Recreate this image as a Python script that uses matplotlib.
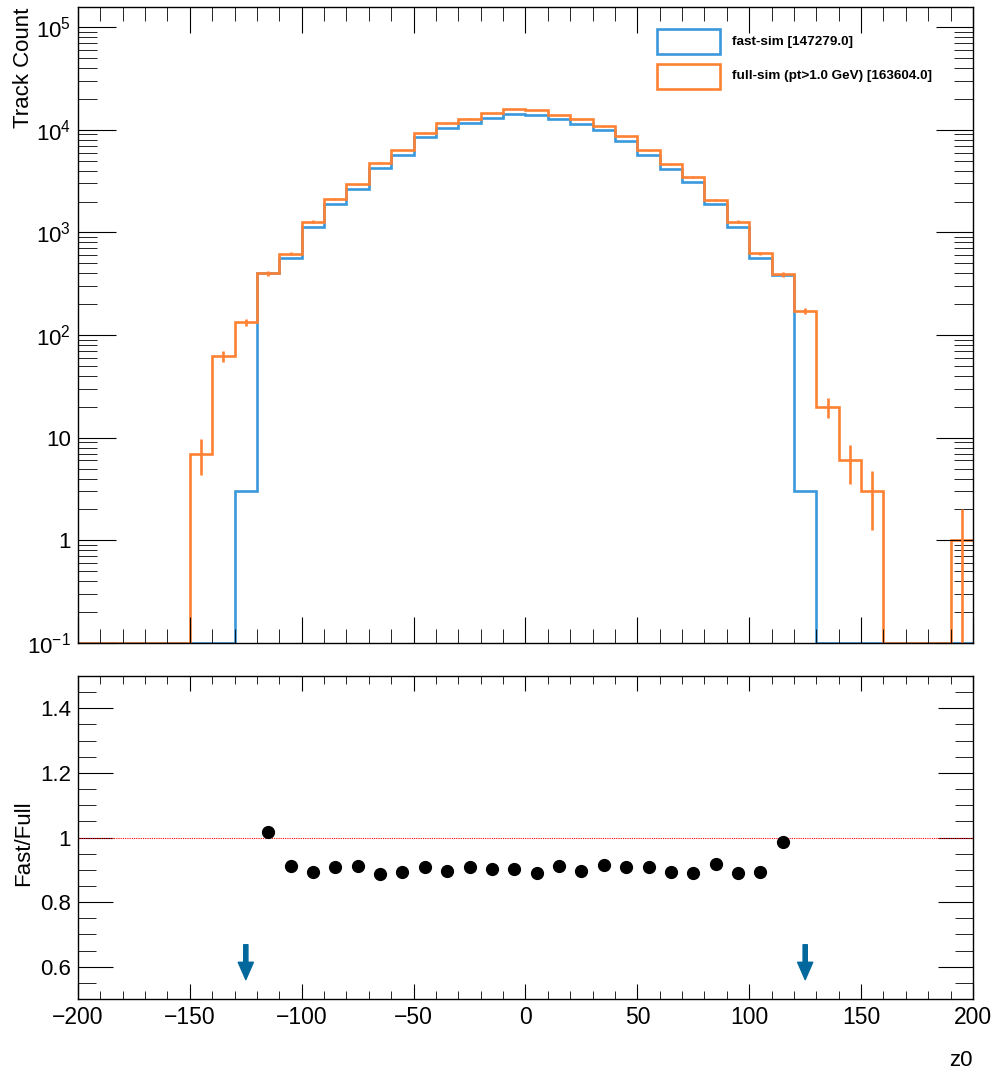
import numpy as np
import matplotlib
matplotlib.use("Agg")
import matplotlib.pyplot as plt
from matplotlib.ticker import FixedLocator, FixedFormatter, MultipleLocator, NullFormatter
from matplotlib.patches import Rectangle

plt.rcParams['font.family'] = ['Liberation Sans', 'DejaVu Sans']
plt.rcParams['mathtext.fontset'] = 'custom'
plt.rcParams['mathtext.rm'] = 'Liberation Sans'
plt.rcParams['mathtext.it'] = 'Liberation Sans:italic'

# z0 binning: 40 bins of width 10 from -200 to 200
edges = np.arange(-200, 201, 10)

# track counts per bin
fast_counts = [0, 0, 0, 0, 0, 0, 0, 3, 406, 568, 1137, 1907, 2675, 4244, 5679, 8532,
               10410, 11677, 13160, 14289, 13911, 12702, 11353, 9916, 7808, 5702,
               4126, 3085, 1909, 1133, 558, 386, 3, 0, 0, 0, 0, 0, 0, 0]
full_counts = [0, 0, 0, 0, 0, 7, 62, 133, 399, 622, 1275, 2100, 2930, 4790, 6360, 9400,
               11600, 12870, 14600, 15850, 15603, 13950, 12680, 10830, 8600, 6280,
               4620, 3470, 2080, 1275, 625, 391, 172, 20, 6, 3, 0, 0, 0, 1]

fast_label = "fast-sim [147279.0]"
full_label = "full-sim (pt>1.0 GeV) [163604.0]"

blue = '#3a98dc'
orange = '#ff8133'
arrow_col = '#00689c'

fast = np.array(fast_counts, dtype=float)
full = np.array(full_counts, dtype=float)
centers = 0.5 * (edges[:-1] + edges[1:])

ymin, ymax = 0.1, 1.57e5
rmin, rmax = 0.5, 1.5

fig = plt.figure(figsize=(10.04, 10.77), dpi=100)
ax = fig.add_axes([78 / 1004, 1 - 643 / 1077, 895 / 1004, 636 / 1077])
rax = fig.add_axes([78 / 1004, 1 - 999 / 1077, 895 / 1004, 323 / 1077])

# ---- top pad: histograms ----
ax.set_yscale('log')
ax.stairs(np.where(fast > 0, fast, ymin), edges, color=blue, lw=1.9, baseline=None)
ax.stairs(np.where(full > 0, full, ymin), edges, color=orange, lw=1.9, baseline=None)
nz = full > 0
err = np.sqrt(full[nz])
lo = np.where(full[nz] - err > 0, full[nz] - err, 1e-3)
ax.vlines(centers[nz], lo, full[nz] + err, color=orange, lw=1.9)

ax.set_xlim(-200, 200)
ax.set_ylim(ymin, ymax)
ax.yaxis.set_major_locator(FixedLocator([0.1, 1, 10, 100, 1e3, 1e4, 1e5]))
ax.yaxis.set_major_formatter(FixedFormatter(
    [r'$10^{-1}$', '1', '10', r'$10^{2}$', r'$10^{3}$', r'$10^{4}$', r'$10^{5}$']))
minors = [m * 10.0 ** d for d in range(-1, 6) for m in range(2, 10)]
ax.yaxis.set_minor_locator(FixedLocator(minors))
ax.yaxis.set_minor_formatter(NullFormatter())
ax.xaxis.set_major_locator(MultipleLocator(50))
ax.xaxis.set_minor_locator(MultipleLocator(10))
ax.xaxis.set_major_formatter(NullFormatter())
ax.tick_params(axis='x', which='major', length=19, direction='in', top=True, bottom=True)
ax.tick_params(axis='x', which='minor', length=10, direction='in', top=True, bottom=True)
ax.tick_params(axis='y', which='major', length=27, direction='in', left=True, right=True,
               labelsize=16, pad=5)
ax.tick_params(axis='y', which='minor', length=14, direction='in', left=True, right=True)
fig.text(24 / 1004, 1 - 8 / 1077, 'Track Count', rotation=90, fontsize=16,
         ha='center', va='top')

# legend boxes
for i, (col, lab) in enumerate([(blue, fast_label), (orange, full_label)]):
    y0 = 1 - (54 - 7 + 35 * i) / 636
    ax.add_patch(Rectangle(((657 - 78) / 895, y0), 63 / 895, 25 / 636,
                           transform=ax.transAxes, facecolor='white',
                           edgecolor=col, lw=1.9, clip_on=False))
    ax.text((732 - 78) / 895, y0 + 12.5 / 636, lab, transform=ax.transAxes,
            fontsize=9.7, fontweight='bold', va='center', ha='left')

# ---- bottom pad: ratio ----
ratio = np.full_like(fast, np.nan)
both = (fast > 0) & (full > 0)
ratio[both] = fast[both] / full[both]
inside = both & (ratio >= rmin) & (ratio <= rmax)
below = both & (ratio < rmin)

rax.axhline(1.0, color='red', lw=0.8, ls=(0, (1, 1)))
rax.plot(centers[inside], ratio[inside], 'o', color='black', ms=8.5)
for xc in centers[below]:
    rax.annotate('', xy=(xc, 0.560), xytext=(xc, 0.668),
                 arrowprops=dict(arrowstyle='simple,head_width=0.68,head_length=0.78,tail_width=0.19',
                                 color=arrow_col, shrinkA=0, shrinkB=0, mutation_scale=16))

rax.set_xlim(-200, 200)
rax.set_ylim(rmin, rmax)
rax.yaxis.set_major_locator(FixedLocator([0.6, 0.8, 1.0, 1.2, 1.4]))
rax.yaxis.set_major_formatter(FixedFormatter(['0.6', '0.8', '1', '1.2', '1.4']))
rax.yaxis.set_minor_locator(MultipleLocator(0.05))
rax.xaxis.set_major_locator(MultipleLocator(50))
rax.xaxis.set_minor_locator(MultipleLocator(10))
rax.tick_params(axis='x', which='major', length=11, direction='in', top=True, bottom=True,
                labelsize=16.5, pad=5)
rax.tick_params(axis='x', which='minor', length=6, direction='in', top=True, bottom=True)
rax.tick_params(axis='y', which='major', length=25, direction='in', left=True, right=True,
                labelsize=16, pad=5)
rax.tick_params(axis='y', which='minor', length=13, direction='in', left=True, right=True)
fig.text(24 / 1004, 1 - 843 / 1077, 'Fast/Full', rotation=90, fontsize=16,
         ha='center', va='center')
fig.text(973 / 1004, 1 - 1060 / 1077, 'z0', fontsize=16, ha='right', va='center')

for a in (ax, rax):
    for s in a.spines.values():
        s.set_linewidth(1.0)

fig.savefig('out.png', dpi=100)
